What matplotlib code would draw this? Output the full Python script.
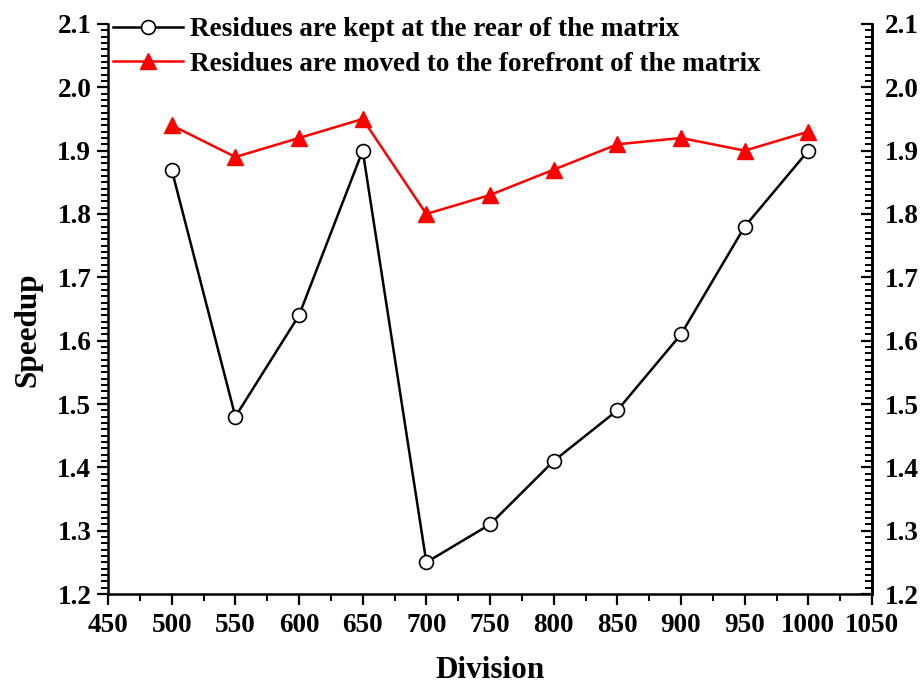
import matplotlib
matplotlib.use("Agg")
import matplotlib.pyplot as plt
from matplotlib.ticker import MultipleLocator, FormatStrFormatter

# data
division = [500, 550, 600, 650, 700, 750, 800, 850, 900, 950, 1000]
kept_rear = [1.87, 1.48, 1.64, 1.90, 1.25, 1.31, 1.41, 1.49, 1.61, 1.78, 1.90]
moved_front = [1.94, 1.89, 1.92, 1.95, 1.80, 1.83, 1.87, 1.91, 1.92, 1.90, 1.93]
labels = ["Residues are kept at the rear of the matrix",
          "Residues are moved to the forefront of the matrix"]

plt.rcParams['font.family'] = ['Liberation Serif', 'DejaVu Serif']
plt.rcParams['font.weight'] = 'bold'

fig = plt.figure(figsize=(9.21, 6.85), dpi=100)
ax = fig.add_axes([0.1173, 0.1328, 0.8295, 0.8322])

ax.plot(division, kept_rear, '-o', color='black', lw=1.8, ms=10,
        mfc='white', mec='black', mew=1.2, label=labels[0])
ax.plot(division, moved_front, '-^', color='red', lw=1.8, ms=11,
        mfc='red', mec='red', label=labels[1])

ax.set_xlim(450, 1050)
ax.set_ylim(1.2, 2.1)
ax.xaxis.set_major_locator(MultipleLocator(50))
ax.xaxis.set_minor_locator(MultipleLocator(25))
ax.yaxis.set_major_locator(MultipleLocator(0.1))
ax.yaxis.set_minor_locator(MultipleLocator(0.01))
ax.yaxis.set_major_formatter(FormatStrFormatter('%.1f'))

for s in ['left', 'bottom', 'right']:
    ax.spines[s].set_linewidth(1.8)
ax.spines['top'].set_visible(False)

ax.tick_params(axis='both', which='major', direction='out', length=8, width=1.6,
               labelsize=19.5, pad=4)
ax.tick_params(axis='both', which='minor', direction='out', length=5, width=1.4)
ax.tick_params(axis='x', which='major', pad=6)

# right axis repeats the speedup scale with ticks pointing inward
ax2 = ax.twinx()
ax2.set_ylim(ax.get_ylim())
ax2.yaxis.set_major_locator(MultipleLocator(0.1))
ax2.yaxis.set_minor_locator(MultipleLocator(0.01))
ax2.yaxis.set_major_formatter(FormatStrFormatter('%.1f'))
ax2.tick_params(axis='y', which='major', direction='in', length=8, width=1.6,
                labelsize=19.5, pad=9)
ax2.tick_params(axis='y', which='minor', direction='in', length=5, width=1.4)
for s in ['left', 'top', 'bottom']:
    ax2.spines[s].set_visible(False)
ax2.spines['right'].set_linewidth(1.8)

ax.set_xlabel("Division", fontsize=22.5, fontweight='bold')
ax.set_ylabel("Speedup", fontsize=22.5, fontweight='bold')
ax.xaxis.set_label_coords(0.5, -0.108)
ax.yaxis.set_label_coords(-0.086, 0.463)

ax.legend(loc='upper left', bbox_to_anchor=(0.006, 1.012), frameon=False,
          fontsize=19.5, handlelength=2.6, handletextpad=0.27,
          labelspacing=0.36, borderpad=0, borderaxespad=0)

for lab in ax.get_xticklabels() + ax.get_yticklabels() + ax2.get_yticklabels():
    lab.set_fontweight('bold')

plt.savefig("out.png", dpi=100)
plt.close()
